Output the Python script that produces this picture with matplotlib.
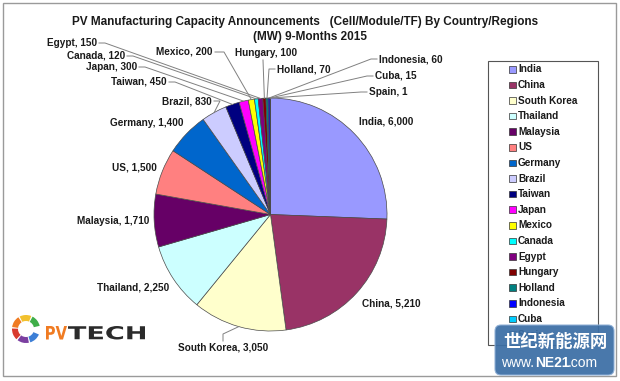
import numpy as np
import matplotlib
matplotlib.use("Agg")
import matplotlib.pyplot as plt
from matplotlib.patches import Rectangle, FancyBboxPatch, Wedge, PathPatch
from matplotlib.textpath import TextPath
from matplotlib.font_manager import FontProperties
from matplotlib.transforms import Affine2D

plt.rcParams["font.family"] = ["Liberation Sans", "DejaVu Sans"]

countries = ["India", "China", "South Korea", "Thailand", "Malaysia", "US",
             "Germany", "Brazil", "Taiwan", "Japan", "Mexico", "Canada",
             "Egypt", "Hungary", "Holland", "Indonesia", "Cuba", "Spain"]
capacity_mw = [6000, 5210, 3050, 2250, 1710, 1500, 1400, 830, 450, 300,
               200, 120, 150, 100, 70, 60, 15, 1]
colors = ["#9999FF", "#993366", "#FFFFCC", "#CCFFFF", "#660066", "#FF8080",
          "#0066CC", "#CCCCFF", "#000080", "#FF00FF", "#FFFF00", "#00FFFF",
          "#800080", "#800000", "#008080", "#0000FF", "#00CCFF", "#CCFFFF"]

W, H = 620, 381
fig = plt.figure(figsize=(6.2, 3.81), dpi=100)
ax = fig.add_axes([0, 0, 1, 1])
ax.set_xlim(0, W)
ax.set_ylim(H, 0)
ax.axis("off")

# outer frame
ax.add_patch(Rectangle((3, 3), 613, 373, fill=False, edgecolor="#9a9a9a", lw=1.0))

cx, cy, r = 270.5, 214.5, 116.5

# pie drawn clockwise from 12 o'clock (y axis points down in this frame)
fracs = np.array(capacity_mw, dtype=float) / sum(capacity_mw)
edges = np.concatenate([[0], np.cumsum(fracs)]) * 360.0
mids = {}
for name, col, a0, a1 in zip(countries, colors, edges[:-1], edges[1:]):
    t0, t1 = a0 - 90, a1 - 90
    ax.add_patch(Wedge((cx, cy), r, t0, t1, facecolor=col, edgecolor="#4a4a4a", lw=0.5))
    tm = np.deg2rad((t0 + t1) / 2)
    mids[name] = (cx + r * np.cos(tm), cy + r * np.sin(tm))

# label layout: x, y, alignment, leader points before the slice (or None)
label_pos = {
    "India": (359, 122, "left", None),
    "China": (362, 303, "left", None),
    "South Korea": (268, 348, "right", [(223, 341), (223, 334)]),
    "Thailand": (169, 287, "right", None),
    "Malaysia": (149, 221, "right", None),
    "US": (157, 168, "right", None),
    "Germany": (183, 123, "right", None),
    "Brazil": (212, 101, "right", [(214, 101), (220, 101)]),
    "Taiwan": (167, 82, "right", [(169, 82), (175, 82)]),
    "Japan": (137, 67, "right", [(139, 67), (145, 67)]),
    "Mexico": (213, 52, "right", [(215, 52), (224, 52)]),
    "Canada": (125, 56, "right", [(127, 56), (133, 56)]),
    "Egypt": (97, 43, "right", [(99, 43), (105, 43)]),
    "Hungary": (235, 53, "left", [(263, 60)]),
    "Holland": (277, 69, "left", [(275, 69), (269, 69)]),
    "Indonesia": (379, 59, "left", [(377, 59), (371, 59)]),
    "Cuba": (375, 76, "left", [(373, 76), (367, 76)]),
    "Spain": (369, 92, "left", [(367, 92), (361, 92)]),
}

for name, val in zip(countries, capacity_mw):
    x, y, ha, lead = label_pos[name]
    ax.text(x, y, f"{name}, {val:,}", ha=ha, va="center", fontsize=7.2,
            fontweight="bold", color="#1a1a1a")
    if lead:
        pts = lead + [mids[name]]
        ax.plot([p[0] for p in pts], [p[1] for p in pts], color="#808080", lw=0.7)

ax.text(305, 22, "PV Manufacturing Capacity Announcements   (Cell/Module/TF) By Country/Regions",
        ha="center", va="center", fontsize=8.5, fontweight="bold", color="#1a1a1a")
ax.text(310, 37, "(MW) 9-Months 2015", ha="center", va="center", fontsize=8.5,
        fontweight="bold", color="#1a1a1a")

# legend, drawn by hand to match the boxed Excel legend
ax.add_patch(Rectangle((488, 61), 110, 284, fill=False, edgecolor="#555555", lw=0.8))
for i, (name, col) in enumerate(zip(countries, colors)):
    ly = 69.3 + i * 15.6
    ax.add_patch(Rectangle((509, ly - 3.3), 6.6, 6.6, facecolor=col,
                           edgecolor="#333333", lw=0.5))
    ax.text(518, ly, name, ha="left", va="center", fontsize=7.2,
            fontweight="bold", color="#1a1a1a")

# PV Tech logo
ring_cols = ["#3d7fd6", "#7b3fa0", "#d83a2e", "#f07b22", "#f2c12e", "#3fae49"]
for i, col in enumerate(ring_cols):
    ax.add_patch(Wedge((26, 329), 14, 20 + i * 55 + 3, 20 + (i + 1) * 55 - 3, width=6,
                       facecolor=col, edgecolor="none"))
bold = FontProperties(family="DejaVu Sans", weight="bold")
for txt, x0, x1, col in [("PV", 46, 67, "#f07b22"), ("TECH", 68, 145, "#2b2b2b")]:
    tp = TextPath((0, 0), txt, size=10, prop=bold)
    bb = tp.get_extents()
    sx = (x1 - x0) / bb.width
    sy = 13.5 / bb.height
    tr = Affine2D().translate(-bb.x0, -bb.y0).scale(sx, -sy).translate(x0, 339.5)
    ax.add_patch(PathPatch(tr.transform_path(tp), facecolor=col, edgecolor="none"))

# watermark (covers the Spain legend entry, as in the source image)
ax.add_patch(FancyBboxPatch((495, 325), 119, 50, boxstyle="round,pad=0,rounding_size=6",
                            facecolor="#3b6ea5", edgecolor="#8fb0d6", lw=0.8,
                            alpha=0.93, zorder=10))
ax.text(555.5, 342, "世纪新能源网", ha="center", va="center", fontsize=12.5, fontweight="bold",
        color="white", family=["Noto Sans CJK SC", "DejaVu Sans"], zorder=11)
ax.text(534, 363, "www.", ha="right", va="center", fontsize=10, color="white", zorder=11)
ax.text(535, 363, "NE21", ha="left", va="center", fontsize=10, fontweight="bold",
        color="white", zorder=11)
ax.text(568, 363, ".com", ha="left", va="center", fontsize=10, color="white", zorder=11)

fig.savefig("out.png", dpi=100)
